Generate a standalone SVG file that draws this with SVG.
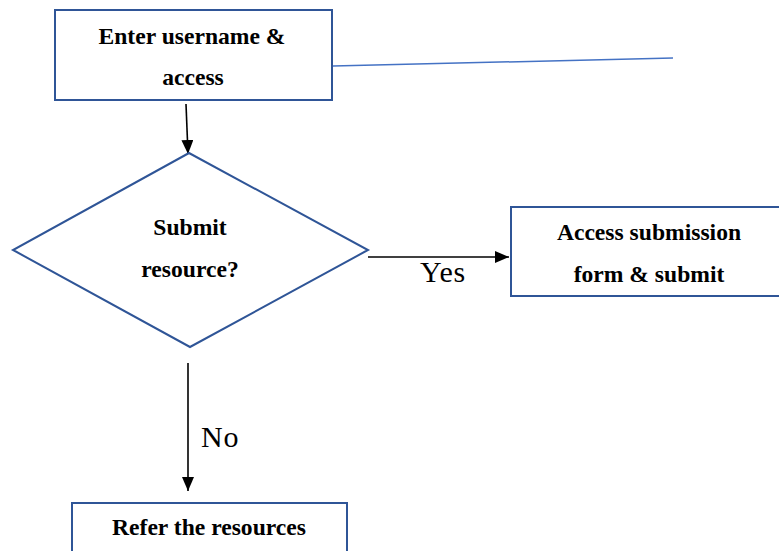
<svg xmlns="http://www.w3.org/2000/svg" width="779" height="551" viewBox="0 0 779 551">
<defs>
<marker id="ah" markerWidth="14" markerHeight="12" refX="14" refY="6" orient="auto" markerUnits="userSpaceOnUse" viewBox="0 0 14 12">
<path d="M0,0 L14,6 L0,12 z" fill="#000"/>
</marker>
<style>
.box{fill:#fff;stroke:#2F5597;stroke-width:2}
.t{font-family:'Liberation Serif','DejaVu Serif',serif;font-weight:bold;font-size:23.6px;fill:#000;text-anchor:middle}
.lbl{font-family:'Liberation Serif','DejaVu Serif',serif;font-size:30px;letter-spacing:0.8px;fill:#000}
.c{stroke:#000;stroke-width:1.6;fill:none}
</style>
</defs>
<rect width="779" height="551" fill="#fff"/>
<g id="connectors">
<line x1="333" y1="66" x2="673" y2="58" stroke="#4472C4" stroke-width="1.5"/>
<line class="c" x1="186" y1="104" x2="188" y2="154" marker-end="url(#ah)"/>
<line class="c" x1="368" y1="257" x2="509" y2="257" marker-end="url(#ah)"/>
<line class="c" x1="188" y1="363" x2="188" y2="491" marker-end="url(#ah)"/>
<text class="lbl" x="420" y="282">Yes</text>
<text class="lbl" x="201" y="447">No</text>
</g>
<g id="n1">
<rect class="box" x="55" y="10" width="277" height="90"/>
<text class="t" x="192" y="44">Enter username &amp;</text>
<text class="t" x="193" y="85">access</text>
</g>
<g id="n2">
<polygon class="box" points="189,153 368,250 190,347 13,250"/>
<text class="t" x="190" y="235">Submit</text>
<text class="t" x="190" y="277">resource?</text>
</g>
<g id="n3">
<rect class="box" x="511" y="207" width="278" height="89"/>
<text class="t" x="649" y="240">Access submission</text>
<text class="t" x="649" y="282">form &amp; submit</text>
</g>
<g id="n4">
<rect class="box" x="72" y="503" width="275" height="60"/>
<text class="t" x="209" y="535">Refer the resources</text>
</g>
</svg>
